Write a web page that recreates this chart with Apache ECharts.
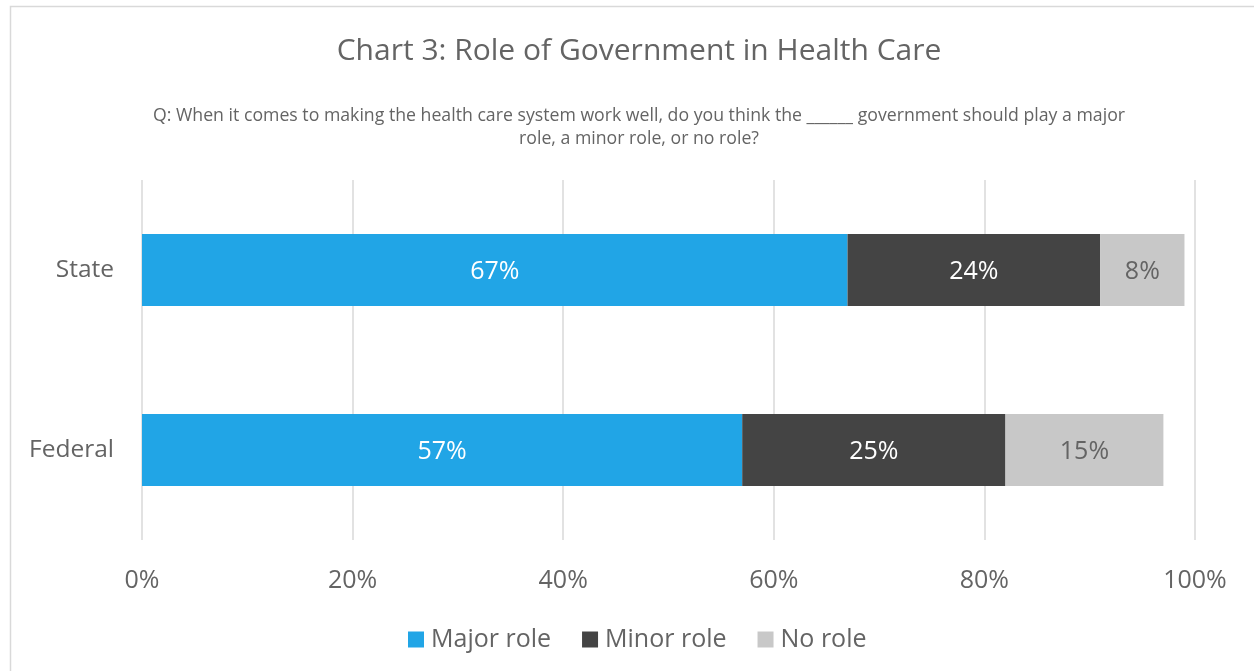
<!DOCTYPE html>
<html>
<head>
<meta charset="utf-8">
<script src="https://cdn.jsdelivr.net/npm/echarts@6/dist/echarts.min.js"></script>
<style>
html,body{margin:0;padding:0;background:#fff;}
#c{width:1254px;height:671px;}
</style>
</head>
<body>
<div id="c"></div>
<script>
const categories = ['Federal', 'State'];
const majorRole = [57, 67];
const minorRole = [25, 24];
const noRole = [15, 8];
const tickValues = [0, 20, 40, 60, 80, 100];

const FONT = '"Open Sans", "Noto Sans", sans-serif';
const TXT = '#646464';
const W = 'normal';

const chart = echarts.init(document.getElementById('c'), null, {renderer: 'canvas'});

function series(name, data, color, labelColor) {
  return {
    name: name,
    type: 'bar',
    stack: 'total',
    data: data,
    barWidth: 72,
    itemStyle: {color: color},
    label: {
      show: true,
      position: 'inside',
      offset: [0, 2],
      formatter: '{c}%',
      color: labelColor,
      fontFamily: FONT,
      fontWeight: W,
      fontSize: 25
    },
    emphasis: {disabled: true}
  };
}

chart.setOption({
  animation: false,
  backgroundColor: '#fff',
  graphic: [{
    type: 'rect',
    shape: {x: 10.5, y: 6.5, width: 1400, height: 800},
    style: {fill: 'none', stroke: '#d9d9d9', lineWidth: 1.5},
    silent: true
  }],
  title: [{
    text: 'Chart 3: Role of Government in Health Care',
    left: 634,
    textAlign: 'center',
    top: 31,
    textStyle: {fontFamily: FONT, fontSize: 30, fontWeight: W, color: TXT}
  }, {
    text: 'Q: When it comes to making the health care system work well, do you think the ______ government should play a major\nrole, a minor role, or no role?',
    left: 634,
    textAlign: 'center',
    top: 99,
    textStyle: {fontFamily: FONT, fontSize: 17.7, fontWeight: W, color: TXT, lineHeight: 23, align: 'center'}
  }],
  legend: {
    bottom: 14,
    left: 403,
    itemWidth: 16,
    itemHeight: 16,
    itemGap: 31,
    icon: 'rect',
    textStyle: {fontFamily: FONT, fontSize: 25, fontWeight: W, color: TXT, padding: [0, 0, 0, 2]},
    data: ['Major role', 'Minor role', 'No role']
  },
  grid: {left: 142, right: 59, top: 180, bottom: 131},
  xAxis: {
    type: 'value',
    min: 0,
    max: 100,
    interval: 20,
    axisLine: {show: false},
    axisTick: {show: false},
    splitLine: {show: true, lineStyle: {color: '#d9d9d9', width: 1.5}},
    axisLabel: {
      formatter: function (v) { return tickValues.indexOf(v) >= 0 ? v + '%' : ''; },
      fontFamily: FONT, fontWeight: W, fontSize: 25, color: TXT, margin: 28
    }
  },
  yAxis: {
    type: 'category',
    data: categories,
    axisLine: {show: false},
    axisTick: {show: false},
    axisLabel: {fontFamily: FONT, fontWeight: W, fontSize: 24.5, color: TXT, margin: 28, padding: [6, 0, 0, 0]}
  },
  series: [
    series('Major role', majorRole, '#21a5e6', '#ffffff'),
    series('Minor role', minorRole, '#444444', '#ffffff'),
    series('No role', noRole, '#c8c8c8', TXT)
  ]
});
</script>
</body>
</html>
